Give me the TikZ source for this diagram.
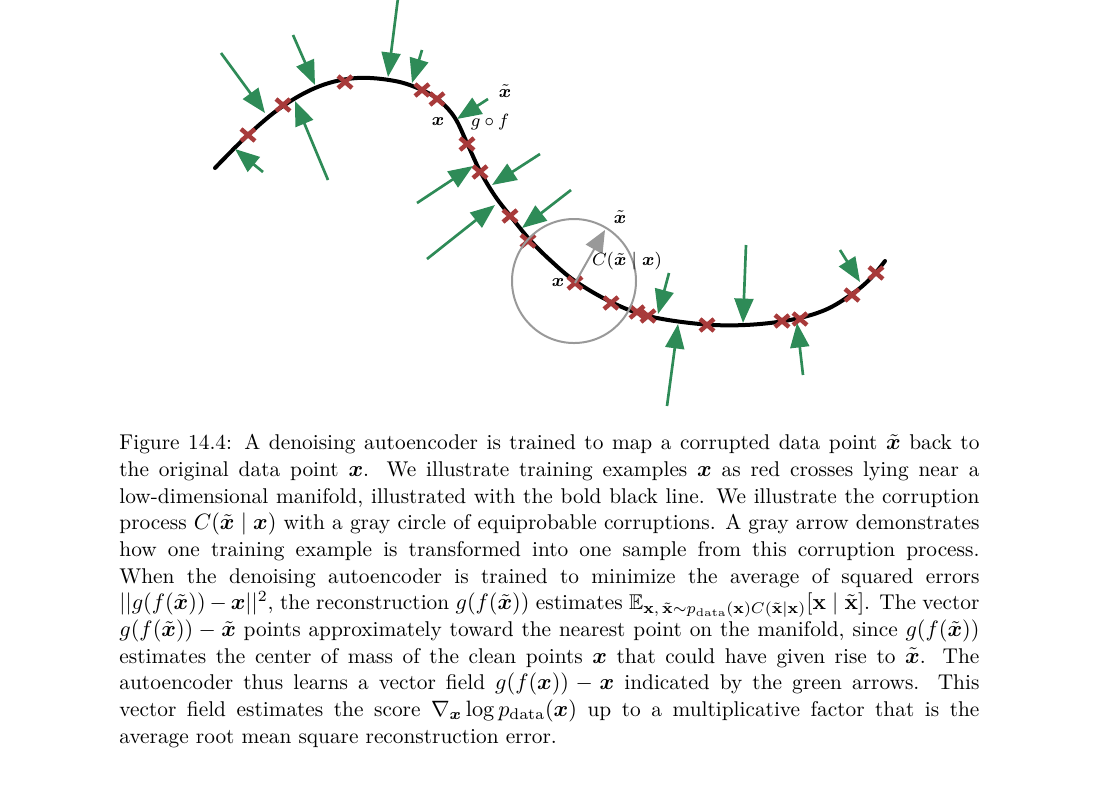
\documentclass[tikz,border=0pt]{standalone}
\usepackage{amsmath,amssymb,bm}
\usetikzlibrary{arrows.meta}
\definecolor{field-green}{HTML}{2E8B57}
\definecolor{cross-red}{HTML}{A83A3A}
\definecolor{noise-gray}{HTML}{999999}

\begin{document}
\begin{tikzpicture}[
    x=0.45pt, y=-0.45pt,
    manifold/.style={line width=1.8pt, line cap=round},
    sample/.style={draw=cross-red, line width=2pt},
    field/.style={draw=field-green, line width=1.2pt, -{Triangle[length=11pt, width=8.5pt]}, field-green},
    noise/.style={noise-gray, line width=0.9pt},
    lbl/.style={font=\footnotesize, inner sep=1pt},
    caption/.style={anchor=north west, text width=387pt, align=justify, inner sep=0pt,
        font={\fontsize{9.6pt}{12pt}\selectfont}},
]
\useasboundingbox (0,0) rectangle (1110,810);

\draw[manifold] plot[smooth, tension=0.6] coordinates {
    (215,168) (248,135) (283,106) (320,86) (357,78) (395,81) (422,90)
    (440,101) (455,118) (467,143) (480,171) (495,196) (512,218) (530,240)
    (550,260) (575,281) (611,302) (648,316) (700,324) (745,325) (790,320)
    (825,310) (852,294) (870,279) (885,261)
};

\foreach \cx/\cy in {248/135, 283/105, 345/82, 422/90, 437/99, 467/144,
    480/172, 510/216, 528/241, 575/283, 611/303, 637/312, 648/316,
    707/325, 782/321, 800/319, 852/295, 876/273}
    \draw[sample] (\cx-7,\cy-6) -- (\cx+7,\cy+6) (\cx-7,\cy+6) -- (\cx+7,\cy-6);

\foreach \tx/\ty/\hx/\hy [count=\i] in {221/53/265/113, 293/35/315/85,
    398/-2/388/77, 422/50/412/83, 488/99/457/119, 328/180/295/101,
    263/172/235/149, 540/154/492/185, 417/203/473/166, 427/259/495/205,
    571/190/522/228, 669/273/658/314, 667/406/678/324, 746/245/743/323,
    803/375/797/323, 840/250/860/282}
{
    \coordinate (tail\i) at (\tx,\ty);
    \coordinate (tip\i) at (\hx,\hy);
    \draw[field] (tail\i) -- (tip\i);
}

\draw[noise] (574,281) circle[radius=27.9pt];
\coordinate (clean) at (575,283);
\coordinate (noisy) at (605,230);
\draw[noise, -{Triangle[length=10pt, width=8.5pt]}] (clean) -- (noisy);

\node[lbl] (clean-label) at (558,283) {$\bm{x}$};
\node[lbl] (noisy-label) at (620,217) {$\tilde{\bm{x}}$};
\node[lbl] (corrupt-label) at (627,261) {$C(\tilde{\bm{x}}\mid\bm{x})$};
\node[lbl] (point-label) at (438,122) {$\bm{x}$};
\node[lbl] (tilde-label) at (505,91) {$\tilde{\bm{x}}$};
\node[lbl] (map-label) at (490,122) {$g\circ f$};

\node[caption] (caption) at (119,434) {\spaceskip=3.2pt plus 2pt minus 1.5pt\relax
Figure 14.4: A denoising autoencoder is trained to map a corrupted data point $\tilde{\bm{x}}$ back to\linebreak
the original data point $\bm{x}$. We illustrate training examples $\bm{x}$ as red crosses lying near a\linebreak
low-dimensional manifold, illustrated with the bold black line. We illustrate the corruption\linebreak
process $C(\tilde{\bm{x}}\mid\bm{x})$ with a gray circle of equiprobable corruptions. A gray arrow demonstrates\linebreak
how one training example is transformed into one sample from this corruption process.\linebreak
When the denoising autoencoder is trained to minimize the average of squared errors\linebreak
$||g(f(\tilde{\bm{x}}))-\bm{x}||^2$, the reconstruction $g(f(\tilde{\bm{x}}))$ estimates $\mathbb{E}_{\mathbf{x},\,\tilde{\mathbf{x}}\sim p_{\mathrm{data}}(\mathbf{x})C(\tilde{\mathbf{x}}\mid\mathbf{x})}[\mathbf{x}\mid\tilde{\mathbf{x}}]$. The vector\linebreak
$g(f(\tilde{\bm{x}}))-\tilde{\bm{x}}$ points approximately toward the nearest point on the manifold, since $g(f(\tilde{\bm{x}}))$\linebreak
estimates the center of mass of the clean points $\bm{x}$ that could have given rise to $\tilde{\bm{x}}$. The\linebreak
autoencoder thus learns a vector field $g(f(\bm{x}))-\bm{x}$ indicated by the green arrows. This\linebreak
vector field estimates the score $\nabla_{\bm{x}}\log p_{\mathrm{data}}(\bm{x})$ up to a multiplicative factor that is the\linebreak
average root mean square reconstruction error.};
\end{tikzpicture}
\end{document}
